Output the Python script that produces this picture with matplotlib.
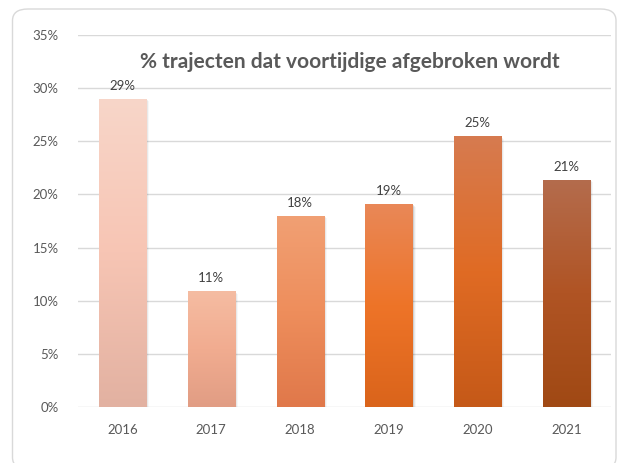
import matplotlib
matplotlib.use("Agg")
import matplotlib.pyplot as plt
import numpy as np
from matplotlib.colors import LinearSegmentedColormap
from matplotlib.patches import FancyBboxPatch, Rectangle

years = ["2016", "2017", "2018", "2019", "2020", "2021"]
values = [29.0, 10.9, 18.0, 19.1, 25.5, 21.4]
labels = ["29%", "11%", "18%", "19%", "25%", "21%"]
yticks = [0, 5, 10, 15, 20, 25, 30, 35]
ytick_labels = ["0%", "5%", "10%", "15%", "20%", "25%", "30%", "35%"]
title = "% trajecten dat voortijdige afgebroken wordt"

# gradient stops per bar (top, middle, bottom)
grads = [
    ("#F8D6C9", "#F7C5B4", "#E2B1A1"),
    ("#F5BCA2", "#F1AC90", "#E19D84"),
    ("#F1A074", "#EE8E5C", "#E0784A"),
    ("#E98858", "#EE7428", "#DA641B"),
    ("#D67B50", "#E06B24", "#C55918"),
    ("#B46C4D", "#B05424", "#A04914"),
]

plt.rcParams['font.family'] = ['Lato', 'DejaVu Sans']

fig = plt.figure(figsize=(6.21, 4.63), dpi=100)
fig.patch.set_facecolor("white")

# rounded border
border = FancyBboxPatch((12.5/621, -6/463), (616-12.5)/621, (454+6)/463,
                        boxstyle="round,pad=0,rounding_size=0.025",
                        transform=fig.transFigure, facecolor="none",
                        edgecolor="#D9D9D9", linewidth=1.0, zorder=-5)
fig.patches.append(border)

ax = fig.add_axes([78/621, 1-407/463, (611-78)/621, (407-35)/463])
ax.set_facecolor("none")
ax.set_zorder(2)
ax.set_xlim(-0.5, len(years) - 0.5)
ax.set_ylim(0, 35)

for s in ax.spines.values():
    s.set_visible(False)
ax.set_yticks(yticks)
ax.set_yticklabels(ytick_labels)
ax.set_xticks(range(len(years)))
ax.set_xticklabels(years)
ax.tick_params(axis='both', length=0, colors="#595959", labelsize=9.5)
ax.tick_params(axis='y', pad=14)
ax.tick_params(axis='x', pad=12)
ax.yaxis.grid(True, color="#D9D9D9", linewidth=1.0)
ax.set_axisbelow(True)

width = 0.53
for i, (v, g, lab) in enumerate(zip(values, grads, labels)):
    x0 = i - width / 2
    # soft shadow
    for k, a in enumerate([0.10, 0.06, 0.03]):
        off = 0.012 * (k + 1)
        sh = Rectangle((x0 + off, -0.1), width, v + 0.1 - 0.08 * (k + 1),
                       facecolor="black", edgecolor="none", alpha=a, zorder=2)
        ax.add_patch(sh)
    cmap = LinearSegmentedColormap.from_list("g%d" % i, [g[2], g[1], g[0]])
    grad = np.linspace(0, 1, 256).reshape(-1, 1)
    im = ax.imshow(grad, extent=(x0, x0 + width, 0, v), origin="lower",
                   cmap=cmap, aspect="auto", zorder=3)
    rect = Rectangle((x0, 0), width, v, transform=ax.transData,
                     facecolor="none", edgecolor="none")
    ax.add_patch(rect)
    im.set_clip_path(rect)
    ax.annotate(lab, (i, v), xytext=(0, 5), textcoords="offset points",
                ha="center", va="bottom", fontsize=9.5, color="#404040", zorder=5)

ax.set_xlim(-0.5, len(years) - 0.5)
ax.set_ylim(0, 35)

fig.text(350/621, 1-62/463, title, ha="center", va="center",
         fontsize=15, fontweight="bold", color="#595959", zorder=10)

fig.savefig("out.png", dpi=100, facecolor="white")
